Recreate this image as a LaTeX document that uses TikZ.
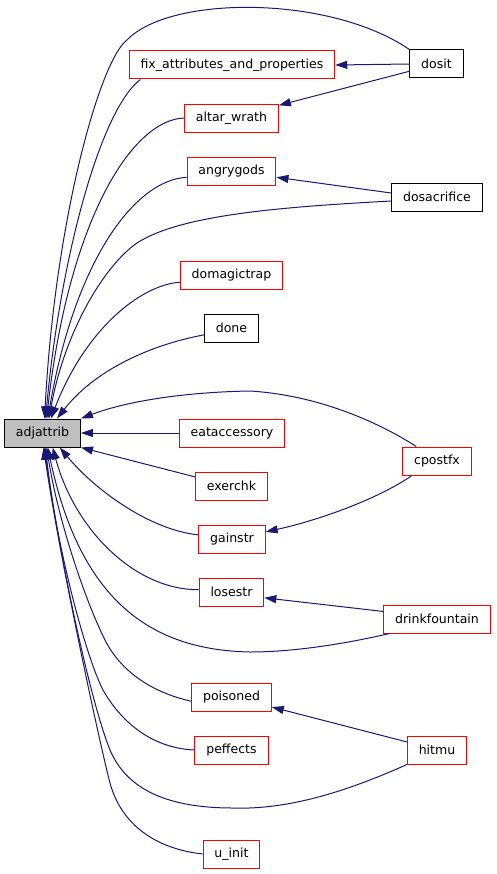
\documentclass[tikz,border=0pt]{standalone}
\usepackage{fontspec}
\setmainfont{DejaVu Sans}
\usetikzlibrary{arrows.meta}

\definecolor{callblue}{RGB}{25,25,112}

\begin{document}
\begin{tikzpicture}[
  x=0.75pt, y=-0.75pt,
  fnbox/.style={rectangle,draw=red,line width=0.75pt,minimum height=21pt,
                inner xsep=8.5pt,inner ysep=0pt,font=\fontsize{9.4}{11}\selectfont},
  extbox/.style={fnbox,draw=black},
  rootbox/.style={fnbox,draw=black,fill=black!25},
  call/.style={draw=callblue,line width=0.75pt,
               -{Triangle[length=9pt,width=6pt]}},
]
  \useasboundingbox (0,0) rectangle (496,874);

  \node[rootbox] (adj)   at (42.5,433)  {adjattrib};
  \node[fnbox]   (fix)   at (232,65)    {fix\_attributes\_and\_properties};
  \node[fnbox]   (altar) at (231.5,118) {altar\_wrath};
  \node[fnbox]   (angry) at (231.5,171) {angrygods};
  \node[fnbox]   (magic) at (231.5,275) {domagictrap};
  \node[extbox]  (done)  at (231.5,328) {done};
  \node[fnbox]   (eat)   at (232,433)   {eataccessory};
  \node[fnbox]   (exer)  at (231.5,486) {exerchk};
  \node[fnbox]   (gain)  at (232,539)   {gainstr};
  \node[fnbox]   (lose)  at (231.5,592) {losestr};
  \node[fnbox]   (pois)  at (231.5,697) {poisoned};
  \node[fnbox]   (peff)  at (231.5,750) {peffects};
  \node[fnbox]   (uinit) at (231.5,854) {u\_init};

  \node[extbox]  (dosit) at (436.5,64)  {dosit};
  \node[extbox]  (dosac) at (437,197)   {dosacrifice};
  \node[fnbox]   (cpost) at (437,461)   {cpostfx};
  \node[fnbox]   (drink) at (437,619)   {drinkfountain};
  \node[fnbox]   (hitmu) at (437,750)   {hitmu};

  % callers of adjattrib
  \draw[call] (dosit.north west) .. controls (330,-5) and (170,-5) .. (127,40)
    .. controls (100,60) and (55,220) .. (adj.82);
  \draw[call] (fix.189) .. controls (100,110) and (60,260) .. (adj.78);
  \draw[call] (altar.west) .. controls (130,120) and (68,225) .. (adj.74);
  \draw[call] (angry.188) .. controls (135,180) and (75,260) .. (adj.70);
  \draw[call] (dosac.185) .. controls (280,207) and (180,215) .. (137,243)
    .. controls (105,265) and (65,330) .. (adj.66);
  \draw[call] (magic.188) .. controls (140,285) and (85,330) .. (adj.60);
  \draw[call] (done.194) .. controls (150,345) and (95,370) .. (adj.45);
  \draw[call] (cpost.145) .. controls (375,420) and (315,395) .. (250,391)
    .. controls (190,392) and (130,400) .. (adj.north east);
  \draw[call] (eat.west) -- (adj.east);
  \draw[call] (exer.166) -- (adj.south east);
  \draw[call] (gain.173) .. controls (150,530) and (95,490) .. (adj.-40);
  \draw[call] (lose.176) .. controls (135,590) and (75,530) .. (adj.-55);
  \draw[call] (drink.197) .. controls (340,645) and (290,652) .. (250,652)
    .. controls (150,650) and (80,600) .. (adj.-70);
  \draw[call] (pois.186) .. controls (150,692) and (120,670) .. (105,640)
    .. controls (85,600) and (58,520) .. (adj.-74);
  \draw[call] (peff.west) .. controls (150,748) and (120,720) .. (103,690)
    .. controls (85,655) and (55,540) .. (adj.-78);
  \draw[call] (hitmu.south west) .. controls (350,790) and (290,810) .. (233,808)
    .. controls (160,808) and (125,785) .. (110,750)
    .. controls (90,700) and (60,560) .. (adj.-82);
  \draw[call] (uinit.west) .. controls (150,848) and (120,820) .. (110,783)
    .. controls (100,745) and (60,560) .. (adj.-86);

  % second level
  \draw[call] (dosit.west) -- (fix.east);
  \draw[call] (dosit.195) -- (altar.15);
  \draw[call] (dosac.175) -- (angry.-8);
  \draw[call] (cpost.210) .. controls (380,498) and (320,520) .. (gain.12);
  \draw[call] (drink.172) -- (lose.-10);
  \draw[call] (hitmu.165) -- (pois.-14);
\end{tikzpicture}
\end{document}
